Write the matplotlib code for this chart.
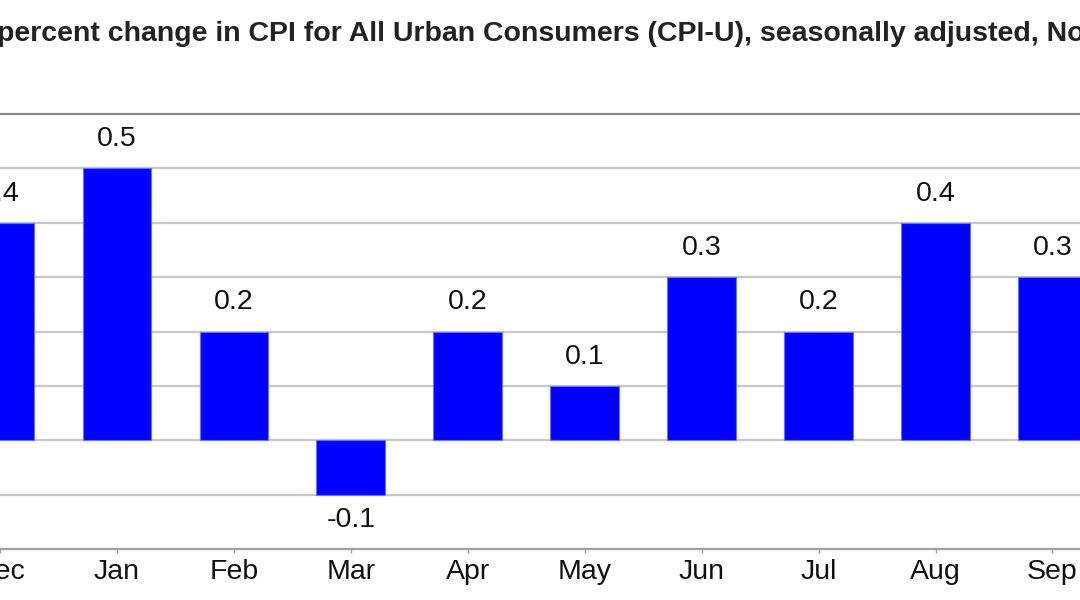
import matplotlib
matplotlib.use("Agg")
import matplotlib.pyplot as plt

months = ["Dec", "Jan", "Feb", "Mar", "Apr", "May", "Jun", "Jul", "Aug", "Sep"]
values = [0.4, 0.5, 0.2, -0.1, 0.2, 0.1, 0.3, 0.2, 0.4, 0.3]
title = "percent change in CPI for All Urban Consumers (CPI-U), seasonally adjusted, Nov"

plt.rcParams['font.family'] = ['Liberation Sans', 'DejaVu Sans']

fig = plt.figure(figsize=(10.8, 6), dpi=100)
ax = fig.add_axes([0, 51/600, 1, 435/600])

x = list(range(len(months)))
ax.bar(x, values, width=0.587, color="#0000ff", edgecolor="#7070ff", linewidth=0.8, zorder=3)

ax.set_xlim(6.1/117.6, 1086.1/117.6)
ax.set_ylim(-0.2, 0.6)
ax.set_yticks([-0.1, 0.0, 0.1, 0.2, 0.3, 0.4, 0.5])
ax.yaxis.grid(True, color="#c8c8c8", linewidth=1.6, zorder=0)
ax.tick_params(axis='y', left=False, labelleft=False)
ax.set_xticks(x)
ax.set_xticklabels(months, fontsize=20.5, color="#111111")
ax.tick_params(axis='x', length=3, width=1, color="#a0a0a0", pad=4)

for s in ["left", "right"]:
    ax.spines[s].set_visible(False)
ax.spines["top"].set_color("#8a8a8a")
ax.spines["top"].set_linewidth(1.6)
ax.spines["bottom"].set_color("#a0a0a0")
ax.spines["bottom"].set_linewidth(1.6)

for xi, v in zip(x, values):
    if v >= 0:
        ax.annotate(f"{v:.1f}", (xi, v), xytext=(0, 21), textcoords="offset points",
                    ha="center", va="center", fontsize=20.5, color="#111111")
    else:
        ax.annotate(f"{v:.1f}", (xi, v), xytext=(0, -18), textcoords="offset points",
                    ha="center", va="center", fontsize=20.5, color="#111111")

fig.text(-0.003, 1 - 34/600, title, fontsize=20.5, fontweight="bold", color="#222222",
         ha="left", va="center")

fig.savefig("out.png", dpi=100)
